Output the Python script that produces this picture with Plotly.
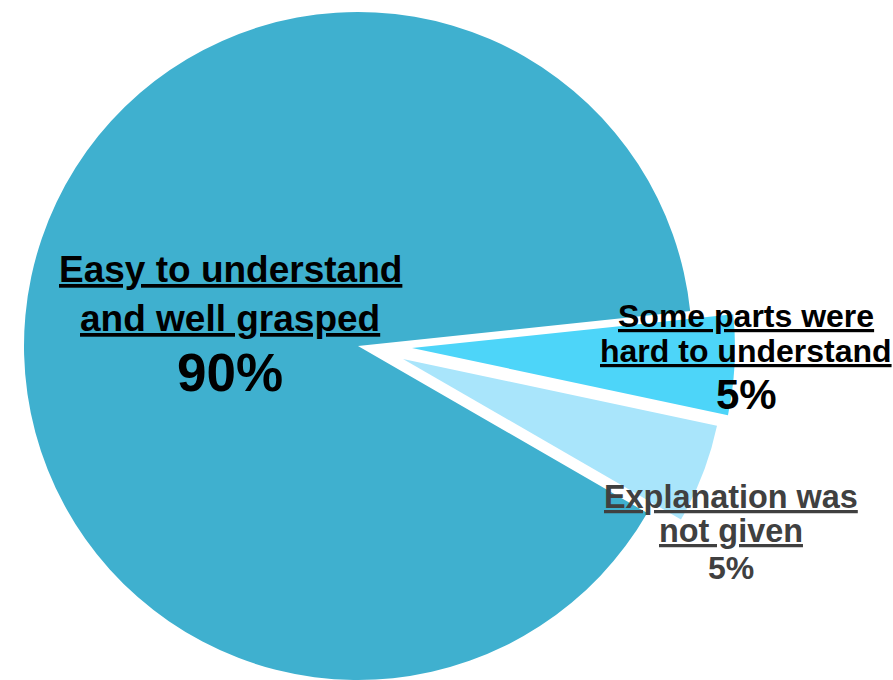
import plotly.graph_objects as go

# ---- data ----
labels = ["Some parts were hard to understand", "Explanation was not given",
          "Easy to understand and well grasped"]
values = [5, 5, 90]
colors = ["#4DD5F9", "#A9E5FB", "#3FB0CF"]
label_lines = [["Some parts were", "hard to understand"],
               ["Explanation was", "not given"],
               ["Easy to understand", "and well grasped"]]

W, H = 893, 680
CLEAR = "rgba(0,0,0,0)"
FONT = "Arial, Liberation Sans, sans-serif"


def domain(cx, cy, r, pad=40):
    half = min(cx, W - cx, r + pad)
    x = [(cx - half) / W, (cx + half) / W]
    y = [max(0.0, (H - cy - r) / H), min(1.0, (H - cy + r) / H)]
    return dict(x=x, y=y)


# each slice drawn in its own trace (others transparent) so each can sit at its own offset
slice_geom = [  # (center x, center y, radius) in pixels
    (412, 348, 323),
    (403, 359, 321),
    (358, 346, 334),
]
draw_order = [2, 0, 1]

fig = go.Figure()
for i in draw_order:
    cx, cy, r = slice_geom[i]
    cols = [colors[k] if k == i else CLEAR for k in range(len(values))]
    fig.add_trace(go.Pie(
        labels=labels, values=values, sort=False, direction="clockwise",
        rotation=84, marker=dict(colors=cols, line=dict(width=0)),
        textinfo="none", hoverinfo="label+percent", domain=domain(cx, cy, r),
        showlegend=False,
    ))

# ---- labels ----
# (center x, [line centers y], line font size, pct center y, pct size, colour)
label_style = [
    (746, [316, 351], 32, 394, 42, "#000000"),
    (731, [497, 531], 32.4, 568, 32, "#404040"),
    (230, [270, 318], 37, 372, 53, "#000000"),
]
annotations = []
for i, (lx, ly, ls, py, ps, col) in enumerate(label_style):
    for line, yy in zip(label_lines[i], ly):
        annotations.append(dict(
            x=lx / W, y=1 - yy / H, xref="paper", yref="paper",
            xanchor="center", yanchor="middle", showarrow=False,
            text=f"<b><u>{line}</u></b>",
            font=dict(family=FONT, size=ls, color=col)))
    annotations.append(dict(
        x=lx / W, y=1 - py / H, xref="paper", yref="paper",
        xanchor="center", yanchor="middle", showarrow=False,
        text=f"<b>{values[i]}%</b>",
        font=dict(family=FONT, size=ps, color=col)))

fig.update_layout(
    width=W, height=H, margin=dict(l=0, r=0, t=0, b=0),
    paper_bgcolor="white", plot_bgcolor="white",
    annotations=annotations, showlegend=False,
)

fig.write_html("out.html")
